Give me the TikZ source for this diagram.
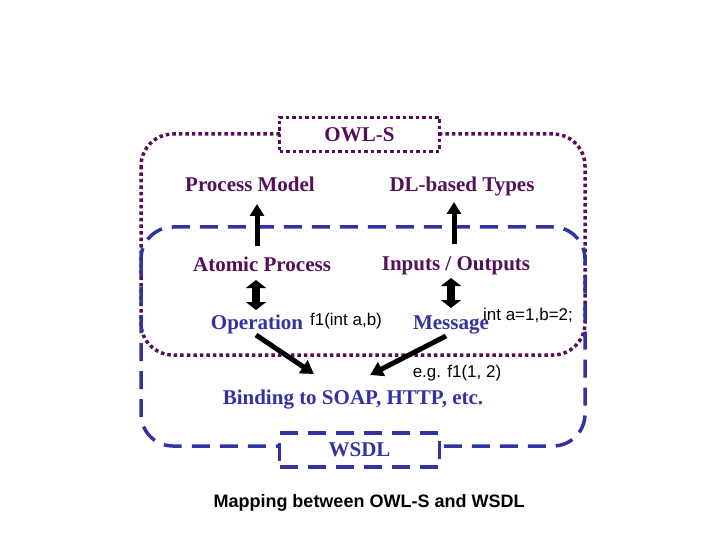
\documentclass[tikz,border=0pt]{standalone}
\usepackage{fontspec}
\setmainfont{Liberation Serif}
\setsansfont{Liberation Sans}
\usetikzlibrary{arrows.meta}
\definecolor{owlp}{RGB}{85,15,90}
\definecolor{wsdlb}{RGB}{50,50,165}
\tikzset{
  lbl/.style={font=\fontsize{21}{21}\selectfont\bfseries, inner sep=0pt, anchor=base},
  plbl/.style={lbl, text=owlp},
  blbl/.style={lbl, text=wsdlb},
  code/.style={font=\sffamily\fontsize{17}{17}\selectfont, inner sep=0pt, anchor=base},
  owlline/.style={draw=owlp, line width=3.5pt, dash pattern=on 3.5pt off 3pt},
  wsdlline/.style={draw=wsdlb, line width=3.5pt, dash pattern=on 18pt off 10pt},
  bigarrow/.style={draw=black, line width=5pt, -{Triangle[length=12pt,width=14pt]}},
  dblarrow/.style={draw=black, line width=8pt, {Triangle[length=8pt,width=20pt]}-{Triangle[length=8pt,width=20pt]}},
  diagarrow/.style={draw=black, line width=5pt, -{Triangle[length=13pt,width=15pt]}}
}
\begin{document}
\begin{tikzpicture}[x=1pt,y=-1pt]
\useasboundingbox (0,0) rectangle (720,540);
% outer frames
\draw[owlline, rounded corners=32pt] (141,134) rectangle (585,355);
\draw[wsdlline, rounded corners=32pt] (141,227) rectangle (585,446);
% label boxes
\node[owlline, fill=white, minimum width=160pt, minimum height=34pt, inner sep=0pt, text=owlp, font=\fontsize{21}{21}\selectfont\bfseries] (owls) at (359.5,134.5) {OWL-S};
\node[wsdlline, fill=white, minimum width=160pt, minimum height=34pt, inner sep=0pt, text=wsdlb, font=\fontsize{21}{21}\selectfont\bfseries] (wsdl) at (359.5,450) {WSDL};
% texts
\node[plbl] (pm) at (250,192) {Process Model};
\node[plbl] (dl) at (462,192) {DL-based Types};
\node[plbl] (ap) at (262,271) {Atomic Process};
\node[plbl] (io) at (456,270) {Inputs / Outputs};
\node[blbl] (op) at (257,329) {Operation};
\node[blbl] (msg) at (451,329) {Message};
\node[blbl] (bind) at (353,404) {Binding to SOAP, HTTP, etc.};
\node[code] (f1) at (346,325) {f1(int a,b)};
\node[code] (ia) at (528,320) {int a=1,b=2;};
\node[code] (eg) at (457,377) {e.g. f1(1, 2)};
\node[font=\sffamily\bfseries\fontsize{18}{18}\selectfont, inner sep=0pt, anchor=base] (cap) at (369,507) {Mapping between OWL-S and WSDL};
% arrow anchors
\coordinate (a1s) at (257,246); \coordinate (a1e) at (257,204);
\coordinate (a2s) at (454,244); \coordinate (a2e) at (454,202);
\coordinate (d1s) at (256,280); \coordinate (d1e) at (256,310);
\coordinate (d2s) at (451,278); \coordinate (d2e) at (451,308);
\coordinate (g1s) at (256,335); \coordinate (g1e) at (314,374);
\coordinate (g2s) at (446,336); \coordinate (g2e) at (370,375);
\draw[bigarrow] (a1s) -- (a1e);
\draw[bigarrow] (a2s) -- (a2e);
\draw[dblarrow] (d1s) -- (d1e);
\draw[dblarrow] (d2s) -- (d2e);
\draw[diagarrow] (g1s) -- (g1e);
\draw[diagarrow] (g2s) -- (g2e);
\end{tikzpicture}
\end{document}
